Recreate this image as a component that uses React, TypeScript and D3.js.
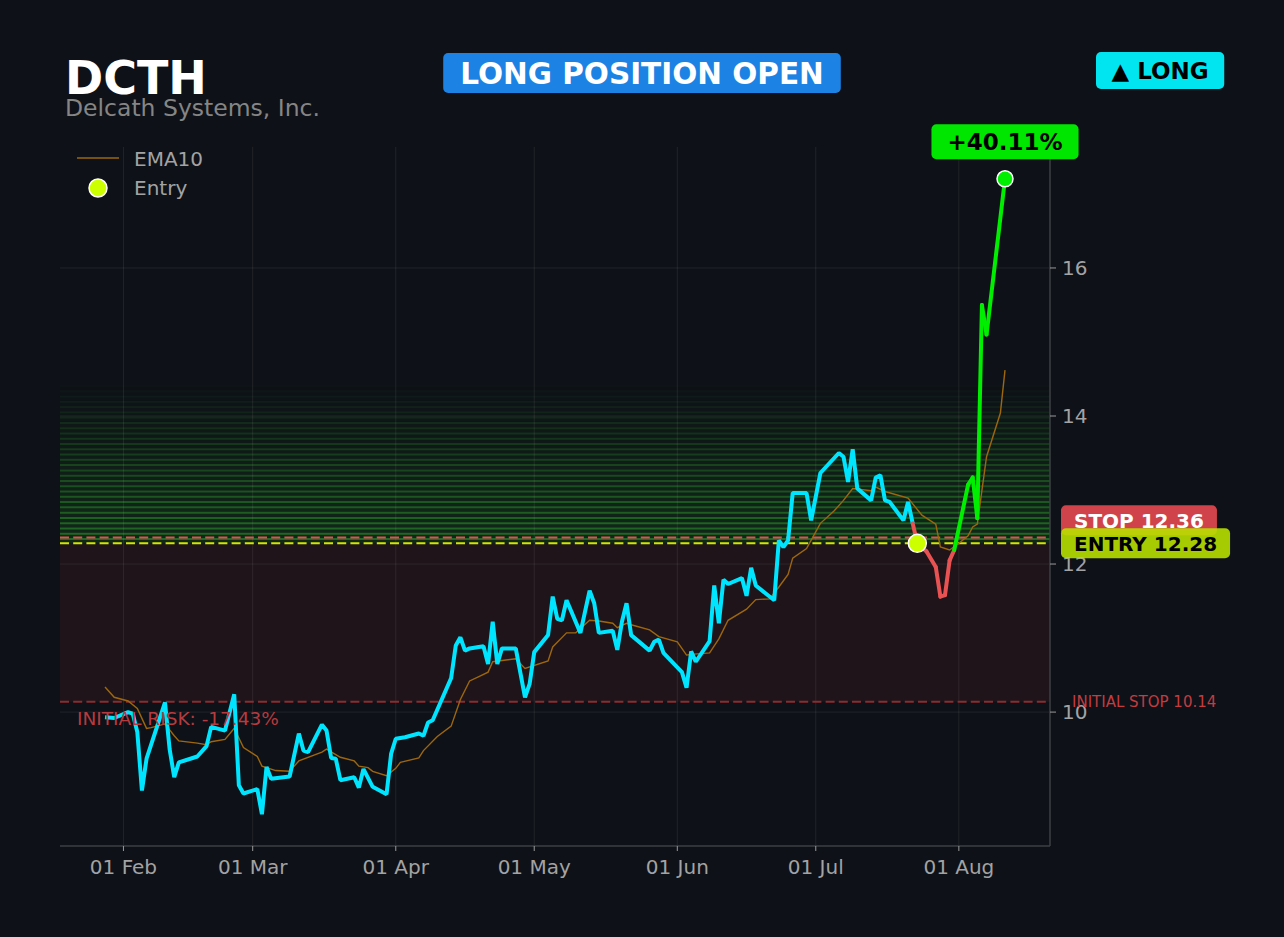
import { useEffect, useRef } from "react";
import * as d3 from "d3";

const TICKER = "DCTH";
const COMPANY = "Delcath Systems, Inc.";
const STATUS = "LONG POSITION OPEN";
const SIDE = "▲ LONG";

const ENTRY_DATE = "2025-07-23";
const ENTRY_PRICE = 12.28;
const STOP_PRICE = 12.36;
const INITIAL_STOP = 10.14;
const Y_TICKS = [10, 12, 14, 16];

// closes
const PRICE: [string, number][] = [
  ["2025-01-28", 9.93], ["2025-01-30", 9.92], ["2025-02-02", 10.0], ["2025-02-03", 9.98],
  ["2025-02-04", 9.73], ["2025-02-05", 8.94], ["2025-02-06", 9.37], ["2025-02-10", 10.13],
  ["2025-02-11", 9.5], ["2025-02-12", 9.12], ["2025-02-13", 9.32], ["2025-02-17", 9.4],
  ["2025-02-19", 9.54], ["2025-02-20", 9.8], ["2025-02-23", 9.75], ["2025-02-25", 10.24],
  ["2025-02-26", 9.01], ["2025-02-27", 8.9], ["2025-03-02", 8.96], ["2025-03-03", 8.62],
  ["2025-03-04", 9.26], ["2025-03-05", 9.1], ["2025-03-09", 9.13], ["2025-03-11", 9.71],
  ["2025-03-12", 9.48], ["2025-03-13", 9.46], ["2025-03-16", 9.83], ["2025-03-17", 9.75],
  ["2025-03-18", 9.38], ["2025-03-19", 9.37], ["2025-03-20", 9.08], ["2025-03-23", 9.12],
  ["2025-03-24", 8.98], ["2025-03-25", 9.23], ["2025-03-27", 8.99], ["2025-03-30", 8.89],
  ["2025-03-31", 9.44], ["2025-04-01", 9.64], ["2025-04-03", 9.66], ["2025-04-06", 9.71],
  ["2025-04-07", 9.68], ["2025-04-08", 9.86], ["2025-04-09", 9.89], ["2025-04-13", 10.46],
  ["2025-04-14", 10.9], ["2025-04-15", 11.01], ["2025-04-16", 10.83], ["2025-04-17", 10.86],
  ["2025-04-20", 10.89], ["2025-04-21", 10.65], ["2025-04-22", 11.22], ["2025-04-23", 10.65],
  ["2025-04-24", 10.86], ["2025-04-27", 10.86], ["2025-04-29", 10.2], ["2025-04-30", 10.38],
  ["2025-05-01", 10.81], ["2025-05-04", 11.04], ["2025-05-05", 11.56], ["2025-05-06", 11.26],
  ["2025-05-07", 11.24], ["2025-05-08", 11.51], ["2025-05-11", 11.07], ["2025-05-13", 11.64],
  ["2025-05-14", 11.47], ["2025-05-15", 11.07], ["2025-05-18", 11.1], ["2025-05-19", 10.84],
  ["2025-05-20", 11.22], ["2025-05-21", 11.47], ["2025-05-22", 11.04], ["2025-05-26", 10.83],
  ["2025-05-27", 10.95], ["2025-05-28", 10.98], ["2025-05-29", 10.8], ["2025-06-02", 10.54],
  ["2025-06-03", 10.33], ["2025-06-04", 10.82], ["2025-06-05", 10.68], ["2025-06-08", 10.96],
  ["2025-06-09", 11.71], ["2025-06-10", 11.2], ["2025-06-11", 11.79], ["2025-06-12", 11.73],
  ["2025-06-15", 11.81], ["2025-06-16", 11.57], ["2025-06-17", 11.95], ["2025-06-18", 11.71],
  ["2025-06-22", 11.51], ["2025-06-23", 12.32], ["2025-06-24", 12.23], ["2025-06-25", 12.32],
  ["2025-06-26", 12.96], ["2025-06-29", 12.96], ["2025-06-30", 12.59], ["2025-07-02", 13.23],
  ["2025-07-06", 13.5], ["2025-07-07", 13.45], ["2025-07-08", 13.11], ["2025-07-09", 13.55],
  ["2025-07-10", 13.02], ["2025-07-13", 12.86], ["2025-07-14", 13.17], ["2025-07-15", 13.2],
  ["2025-07-16", 12.86], ["2025-07-17", 12.84], ["2025-07-20", 12.59], ["2025-07-21", 12.84],
  ["2025-07-22", 12.55], ["2025-07-23", 12.28], ["2025-07-25", 12.17], ["2025-07-27", 11.96],
  ["2025-07-28", 11.56], ["2025-07-29", 11.58], ["2025-07-30", 12.05], ["2025-07-31", 12.19],
  ["2025-08-03", 13.07], ["2025-08-04", 13.17], ["2025-08-05", 12.62], ["2025-08-06", 15.5],
  ["2025-08-07", 15.1], ["2025-08-11", 17.205],
];

const EMA10: [string, number][] = [
  ["2025-01-28", 10.34], ["2025-01-30", 10.2], ["2025-02-02", 10.15], ["2025-02-04", 10.05],
  ["2025-02-06", 9.78], ["2025-02-07", 9.79], ["2025-02-10", 9.84], ["2025-02-12", 9.68],
  ["2025-02-13", 9.61], ["2025-02-17", 9.58], ["2025-02-19", 9.56], ["2025-02-20", 9.6],
  ["2025-02-23", 9.63], ["2025-02-25", 9.78], ["2025-02-27", 9.52], ["2025-03-02", 9.4],
  ["2025-03-03", 9.27], ["2025-03-06", 9.21], ["2025-03-09", 9.2], ["2025-03-11", 9.34],
  ["2025-03-16", 9.46], ["2025-03-17", 9.5], ["2025-03-20", 9.39], ["2025-03-23", 9.34],
  ["2025-03-24", 9.27], ["2025-03-26", 9.25], ["2025-03-27", 9.2], ["2025-03-30", 9.14],
  ["2025-04-01", 9.24], ["2025-04-02", 9.32], ["2025-04-06", 9.38], ["2025-04-07", 9.48],
  ["2025-04-10", 9.67], ["2025-04-13", 9.81], ["2025-04-15", 10.17], ["2025-04-17", 10.42],
  ["2025-04-19", 10.48], ["2025-04-21", 10.54], ["2025-04-22", 10.68], ["2025-04-27", 10.72],
  ["2025-04-29", 10.59], ["2025-05-04", 10.69], ["2025-05-05", 10.88], ["2025-05-08", 11.07],
  ["2025-05-10", 11.07], ["2025-05-13", 11.24], ["2025-05-15", 11.23], ["2025-05-18", 11.2],
  ["2025-05-19", 11.14], ["2025-05-21", 11.2], ["2025-05-22", 11.18], ["2025-05-26", 11.11],
  ["2025-05-28", 11.02], ["2025-06-01", 10.95], ["2025-06-03", 10.77], ["2025-06-04", 10.78],
  ["2025-06-08", 10.8], ["2025-06-10", 10.99], ["2025-06-12", 11.24], ["2025-06-16", 11.39],
  ["2025-06-18", 11.52], ["2025-06-21", 11.53], ["2025-06-23", 11.69], ["2025-06-25", 11.86],
  ["2025-06-26", 12.08], ["2025-06-29", 12.21], ["2025-07-02", 12.55], ["2025-07-05", 12.72],
  ["2025-07-07", 12.86], ["2025-07-09", 13.02], ["2025-07-13", 12.99], ["2025-07-14", 13.04],
  ["2025-07-16", 12.98], ["2025-07-21", 12.89], ["2025-07-24", 12.66], ["2025-07-27", 12.54],
  ["2025-07-28", 12.23], ["2025-07-30", 12.19], ["2025-08-01", 12.28], ["2025-08-03", 12.38],
  ["2025-08-04", 12.5], ["2025-08-05", 12.54], ["2025-08-07", 13.45], ["2025-08-10", 14.04],
  ["2025-08-11", 14.62],
];

const BG = "#0e1117";
const FONT = "'DejaVu Sans', Verdana, sans-serif";
const CYAN = "#00e5ff";
const GREEN = "#00ee00";
const RED = "#e85252";
const LIME = "#ccff00";
const EMA_COLOR = "#9e670e";

export default function App() {
  const svgRef = useRef<SVGSVGElement>(null);

  useEffect(() => {
    document.body.style.margin = "0";
    document.body.style.background = BG;
    const W = 1284, H = 937;
    const mg = { t: 147, r: 234, b: 91, l: 60 };
    const x0 = mg.l, x1 = W - mg.r, y0 = mg.t, y1 = H - mg.b;

    const parse = d3.timeParse("%Y-%m-%d");
    const px = PRICE.map(([d, v]) => ({ d: parse(d)!, v }));
    const ema = EMA10.map(([d, v]) => ({ d: parse(d)!, v }));
    const entryD = parse(ENTRY_DATE)!;
    const entryIdx = px.findIndex(p => +p.d === +entryD);

    const [dMin, dMax] = d3.extent(px, p => p.d) as [Date, Date];
    const dPad = (+dMax - +dMin) * 0.05;
    const xS = d3.scaleTime().domain([new Date(+dMin - dPad), new Date(+dMax + dPad)]).range([x0, x1]);
    const [vMin, vMax] = d3.extent(px, p => p.v) as [number, number];
    const vPad = (vMax - vMin) * 0.05;
    const yS = d3.scaleLinear().domain([vMin - vPad, vMax + vPad]).range([y1, y0]);

    const svg = d3.select(svgRef.current!);
    svg.selectAll("*").remove();
    svg.attr("font-family", FONT);
    svg.append("rect").attr("width", W).attr("height", H).attr("fill", BG);

    // risk zone: initial stop -> entry
    svg.append("rect").attr("x", x0).attr("width", x1 - x0)
      .attr("y", yS(ENTRY_PRICE)).attr("height", yS(INITIAL_STOP) - yS(ENTRY_PRICE))
      .attr("fill", "#e04040").attr("opacity", 0.08);

    // reward zone: striped fade up to 1R
    const target = ENTRY_PRICE + (ENTRY_PRICE - INITIAL_STOP);
    const N = 30, step = (target - ENTRY_PRICE) / N;
    for (let i = 0; i < N; i++) {
      const lo = ENTRY_PRICE + i * step, hi = lo + step, f = 1 - i / N;
      svg.append("rect").attr("x", x0).attr("width", x1 - x0)
        .attr("y", yS(hi)).attr("height", yS(lo) - yS(hi))
        .attr("fill", "#1e7a1e").attr("opacity", 0.22 * f);
      svg.append("line").attr("x1", x0).attr("x2", x1).attr("y1", yS(hi) + 1).attr("y2", yS(hi) + 1)
        .attr("stroke", "#2ea02e").attr("stroke-width", 2).attr("opacity", 0.55 * f);
    }

    // grid
    const months = xS.ticks(d3.timeMonth.every(1)!);
    months.forEach(m => {
      svg.append("line").attr("x1", xS(m)).attr("x2", xS(m)).attr("y1", y0).attr("y2", y1)
        .attr("stroke", "#ffffff").attr("stroke-opacity", 0.08);
    });
    Y_TICKS.forEach(v => {
      svg.append("line").attr("x1", x0).attr("x2", x1).attr("y1", yS(v)).attr("y2", yS(v))
        .attr("stroke", "#ffffff").attr("stroke-opacity", 0.08);
    });

    // spines + ticks
    svg.append("line").attr("x1", x0).attr("x2", x1).attr("y1", y1).attr("y2", y1).attr("stroke", "#3d4046").attr("stroke-width", 1.5);
    svg.append("line").attr("x1", x1).attr("x2", x1).attr("y1", y0).attr("y2", y1).attr("stroke", "#3d4046").attr("stroke-width", 1.5);
    const fmt = d3.timeFormat("%d %b");
    months.forEach(m => {
      svg.append("line").attr("x1", xS(m)).attr("x2", xS(m)).attr("y1", y1).attr("y2", y1 + 5).attr("stroke", "#9a9a9a");
      svg.append("text").attr("x", xS(m)).attr("y", y1 + 28).attr("text-anchor", "middle")
        .attr("font-size", 20).attr("fill", "#a3a3a3").text(fmt(m));
    });
    Y_TICKS.forEach(v => {
      svg.append("line").attr("x1", x1).attr("x2", x1 + 6).attr("y1", yS(v)).attr("y2", yS(v)).attr("stroke", "#9a9a9a");
      svg.append("text").attr("x", x1 + 12).attr("y", yS(v)).attr("dy", "0.36em")
        .attr("font-size", 20).attr("fill", "#a3a3a3").text(v);
    });

    // level lines
    const hline = (v: number, color: string) =>
      svg.append("line").attr("x1", x0).attr("x2", x1).attr("y1", yS(v)).attr("y2", yS(v))
        .attr("stroke", color).attr("stroke-width", 2).attr("stroke-dasharray", "9,4.2");
    hline(INITIAL_STOP, "#8a2c31");
    hline(STOP_PRICE, "#e05050");
    hline(ENTRY_PRICE, "#d2e600");

    // EMA10
    const line = d3.line<{ d: Date; v: number }>().x(p => xS(p.d)).y(p => yS(p.v));
    svg.append("path").attr("d", line(ema)).attr("fill", "none")
      .attr("stroke", EMA_COLOR).attr("stroke-width", 1.4);

    // price before entry
    svg.append("path").attr("d", line(px.slice(0, entryIdx))).attr("fill", "none")
      .attr("stroke", CYAN).attr("stroke-width", 4).attr("stroke-linejoin", "bevel");
    // price from entry: green above entry, red below
    for (let i = entryIdx; i < px.length; i++) {
      const a = px[i - 1], b = px[i];
      svg.append("line").attr("x1", xS(a.d)).attr("y1", yS(a.v)).attr("x2", xS(b.d)).attr("y2", yS(b.v))
        .attr("stroke", b.v > ENTRY_PRICE ? GREEN : RED).attr("stroke-width", 4).attr("stroke-linecap", "round");
    }

    // markers
    svg.append("circle").attr("cx", xS(entryD)).attr("cy", yS(ENTRY_PRICE)).attr("r", 9)
      .attr("fill", LIME).attr("stroke", "white").attr("stroke-width", 1.5);
    const last = px[px.length - 1];
    svg.append("circle").attr("cx", xS(last.d)).attr("cy", yS(last.v)).attr("r", 8)
      .attr("fill", GREEN).attr("stroke", "white").attr("stroke-width", 1.5);

    // text labels
    const riskPct = (INITIAL_STOP / ENTRY_PRICE - 1) * 100;
    svg.append("text").attr("x", 77).attr("y", yS(INITIAL_STOP) + 23).attr("font-size", 18.5)
      .attr("fill", "#b83a3e").text(`INITIAL RISK: ${riskPct.toFixed(2)}%`);
    svg.append("text").attr("x", x1 + 22).attr("y", yS(INITIAL_STOP) + 5).attr("font-size", 15)
      .attr("fill", "#c23c40").text(`INITIAL STOP ${INITIAL_STOP.toFixed(2)}`);

    const badge = (cx: number | null, left: number | null, cy: number, h: number, label: string,
      fill: string, color: string, size: number, padX: number, opacity = 1) => {
      const g = svg.append("g");
      const r = g.append("rect").attr("fill", fill).attr("opacity", opacity).attr("rx", 5);
      const t = g.append("text").attr("font-size", size).attr("font-weight", "bold").attr("fill", color)
        .attr("y", cy).attr("dy", "0.36em").text(label);
      const tw = (t.node() as SVGTextElement).getComputedTextLength();
      const w = tw + padX * 2;
      const bx = cx != null ? cx - w / 2 : left!;
      r.attr("x", bx).attr("y", cy - h / 2).attr("width", w).attr("height", h);
      t.attr("x", bx + padX);
    };
    const entryY = yS(ENTRY_PRICE);
    const stopY = Math.min(yS(STOP_PRICE), entryY - 23);
    badge(null, x1 + 11, stopY, 30, `STOP ${STOP_PRICE.toFixed(2)}`, "#d0434a", "white", 20, 13);
    badge(null, x1 + 11, entryY, 30, `ENTRY ${ENTRY_PRICE.toFixed(2)}`, "#b8e000", "black", 20, 13, 0.9);
    const gain = (last.v / ENTRY_PRICE - 1) * 100;
    badge(xS(last.d), null, yS(last.v) - 37, 35, `+${gain.toFixed(2)}%`, "#00e600", "black", 23, 16);

    // header
    svg.append("text").attr("x", 65).attr("y", 94).attr("font-size", 46).attr("font-weight", "bold")
      .attr("fill", "white").text(TICKER);
    svg.append("text").attr("x", 65).attr("y", 116).attr("font-size", 23.5).attr("fill", "#858585").text(COMPANY);
    badge(W / 2, null, 73, 40, STATUS, "#1c82e4", "white", 29.5, 17);
    badge(null, 1096, 70.5, 37, SIDE, "#00e5f0", "black", 23, 15.5);

    // legend
    svg.append("line").attr("x1", 77).attr("x2", 119).attr("y1", 158).attr("y2", 158)
      .attr("stroke", EMA_COLOR).attr("stroke-width", 1.6);
    svg.append("text").attr("x", 134).attr("y", 166).attr("font-size", 20).attr("fill", "#a3a3a3").text("EMA10");
    svg.append("circle").attr("cx", 98).attr("cy", 188).attr("r", 9)
      .attr("fill", LIME).attr("stroke", "white").attr("stroke-width", 1.5);
    svg.append("text").attr("x", 134).attr("y", 195).attr("font-size", 20).attr("fill", "#a3a3a3").text("Entry");
  }, []);

  return <svg ref={svgRef} width={1284} height={937} style={{ display: "block" }} />;
}
